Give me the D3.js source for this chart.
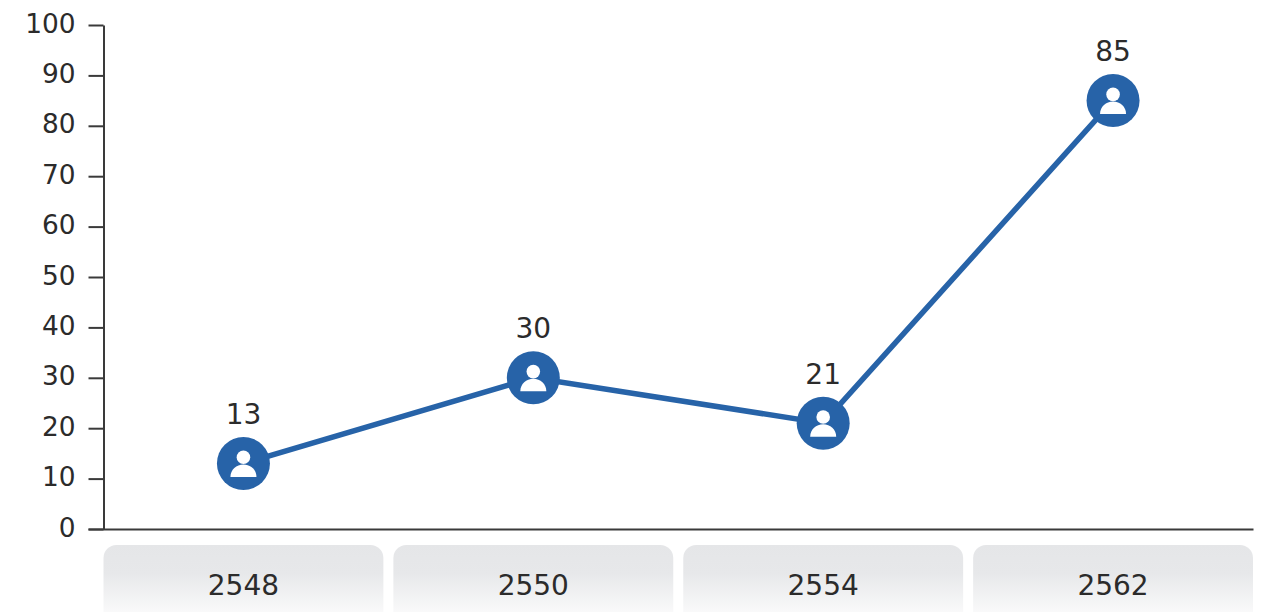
<!DOCTYPE html>
<html>
<head>
<meta charset="utf-8">
<script src="https://cdn.jsdelivr.net/npm/d3@7"></script>
<style>
    html, body { margin: 0; padding: 0; background: #fff; overflow: hidden; }
    text { font-family: "DejaVu Sans", sans-serif; font-size: 28px; fill: #2b2b2b; }
</style>
</head>
<body>
<svg id="main-svg" width="1261" height="612"></svg>
<script>
(function() {

    var years = ["2548", "2550", "2554", "2562"];
    var values = [13, 30, 21, 85];
    var yTicks = [0, 10, 20, 30, 40, 50, 60, 70, 80, 90, 100];

    var svg = d3.select("#main-svg");
    var blue = "#2763a8";
    var axisColor = "#3a3a3a";

    var x = d3.scaleBand()
        .domain(years)
        .range([103.5, 1253])
        .paddingInner(10 / 290);

    var y = d3.scaleLinear()
        .domain([0, 100])
        .range([529, 25]);

    // pill gradient
    var grad = svg.append("defs").append("linearGradient")
        .attr("id", "pill-grad")
        .attr("x1", 0).attr("y1", 0)
        .attr("x2", 0).attr("y2", 1);
    grad.append("stop").attr("offset", "0%").attr("stop-color", "#e5e6e8");
    grad.append("stop").attr("offset", "35%").attr("stop-color", "#e7e8ea");
    grad.append("stop").attr("offset", "100%").attr("stop-color", "#ffffff");

    // category pills
    svg.selectAll(".pill")
        .data(years)
        .enter()
        .append("rect")
        .classed("pill", true)
        .attr("x", function(d) { return x(d); })
        .attr("y", 545)
        .attr("width", x.bandwidth())
        .attr("height", 80)
        .attr("rx", 13)
        .attr("fill", "url(#pill-grad)");

    svg.selectAll(".pill-label")
        .data(years)
        .enter()
        .append("text")
        .classed("pill-label", true)
        .attr("x", function(d) { return x(d) + x.bandwidth() / 2; })
        .attr("y", 595)
        .attr("text-anchor", "middle")
        .text(function(d) { return d; });

    // y axis
    var yAxis = d3.axisLeft(y)
        .tickValues(yTicks)
        .tickSize(15)
        .tickSizeOuter(0)
        .tickPadding(13);

    var yG = svg.append("g")
        .attr("transform", "translate(103.5,0)")
        .call(yAxis);
    yG.select(".domain").attr("stroke", axisColor).attr("stroke-width", 2);
    yG.selectAll(".tick line").attr("stroke", axisColor).attr("stroke-width", 2);
    yG.selectAll(".tick text")
        .attr("font-family", null)
        .attr("font-size", null)
        .style("font-size", "26.4px")
        .attr("dy", "0.27em");

    // x baseline
    var xAxis = d3.axisBottom(d3.scaleLinear().domain([0, 1]).range([88, 1253]))
        .tickValues([])
        .tickSize(0);
    svg.append("g")
        .attr("transform", "translate(0," + y(0) + ")")
        .call(xAxis)
        .select(".domain")
        .attr("stroke", axisColor)
        .attr("stroke-width", 2);

    // line
    var points = years.map(function(yr, i) { return { year: yr, value: values[i] }; });
    var cx = function(d) { return x(d.year) + x.bandwidth() / 2; };

    var line = d3.line()
        .x(cx)
        .y(function(d) { return y(d.value); });

    svg.append("path")
        .datum(points)
        .attr("d", line)
        .attr("fill", "none")
        .attr("stroke", blue)
        .attr("stroke-width", 5.5);

    // markers
    var marker = svg.selectAll(".marker")
        .data(points)
        .enter()
        .append("g")
        .classed("marker", true)
        .attr("transform", function(d) {
            return "translate(" + cx(d) + "," + y(d.value) + ")";
        });

    marker.append("circle").attr("r", 26.5).attr("fill", blue);
    marker.append("circle").attr("cy", -6.2).attr("r", 6.8).attr("fill", "#fff");
    marker.append("path")
        .attr("d", "M-13,13.5 C-13,6 -7,1 0,1 C7,1 13,6 13,13.5 Z")
        .attr("fill", "#fff");

    // value labels
    marker.append("text")
        .attr("y", -39.5)
        .attr("text-anchor", "middle")
        .text(function(d) { return d.value; });
})();
</script>
</body>
</html>
